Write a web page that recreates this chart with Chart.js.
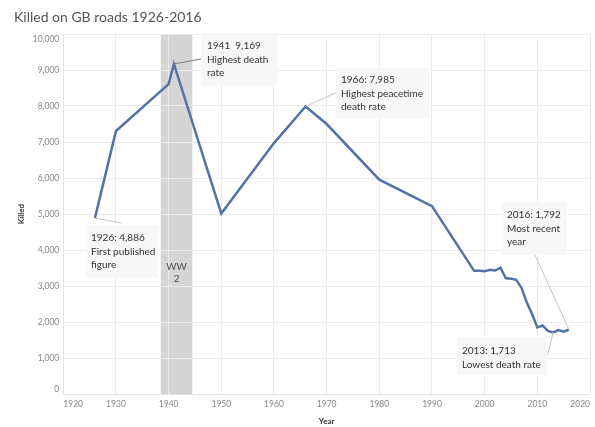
<!DOCTYPE html>
<html><head><meta charset="utf-8">
<script src="https://cdn.jsdelivr.net/npm/chart.js@4/dist/chart.umd.min.js"></script>
<style>
html,body{margin:0;padding:0;background:#fff;overflow:hidden}
#wrap{position:relative;width:595px;height:427px}
#title{position:absolute;left:14px;top:10px;font:14px/14px Lato, sans-serif;color:#555;white-space:nowrap}
canvas{position:absolute;left:0;top:0}
</style></head><body>
<div id="wrap"><canvas id="c" width="595" height="427"></canvas><div id="title">Killed on GB roads 1926-2016</div></div>
<script>
// ---- data ----
const years  = [1926,1930,1940,1941,1950,1960,1966,1970,1980,1990,1998,1999,2000,2001,2002,2003,2004,2005,2006,2007,2008,2009,2010,2011,2012,2013,2014,2015,2016];
const killed = [4886,7305,8609,9169,5012,6970,7985,7499,5953,5217,3421,3423,3409,3450,3431,3508,3221,3201,3172,2946,2538,2222,1850,1901,1754,1713,1775,1730,1792];
const xRange = [1920, 2020];
const xStep = 10;
const yRange = [0, 10000];
const yStep = 1000;
const ww2Band = [1938.5, 1944.5];
const ww2Label = ['WW', '2'];
const noteYears = [1926, 1941, 1966, 2016, 2013];
const noteTexts = [
  ['1926: 4,886', 'First published', 'figure'],
  ['1941  9,169', 'Highest death', 'rate'],
  ['1966: 7,985', 'Highest peacetime', 'death rate'],
  ['2016: 1,792', 'Most recent', 'year'],
  ['2013: 1,713', 'Lowest death rate']
];
// ---- annotation layout (pixels) ----
const noteLayout = [
  {box:[86,225,72,52],  text:[91,238],  end:[122,223], line:'#c4c4c4'},
  {box:[201,33,76,52],  text:[207,46],  end:[201,59],  line:'#7a7a7a'},
  {box:[336,68,94,50],  text:[341,80],  end:[336,92.7],line:'#c4c4c4'},
  {box:[502,203,65,52], text:[507,215], end:[535,255], line:'#c4c4c4'},
  {box:[457,337,90,38], text:[462,351], end:[547.7,355],line:'#c4c4c4'}
];

const points = years.map((y,i)=>({x:y, y:killed[i]}));
const fmt = v => Number(v).toLocaleString('en-US');

const bandPlugin = {
  id:'band',
  beforeDraw(chart){
    const {ctx, chartArea, scales:{x}} = chart;
    const x0 = x.getPixelForValue(ww2Band[0]), x1 = x.getPixelForValue(ww2Band[1]);
    ctx.save();
    ctx.fillStyle = '#d5d5d5';
    ctx.fillRect(x0, chartArea.top, x1-x0, chartArea.bottom-chartArea.top);
    ctx.restore();
  },
  beforeDatasetsDraw(chart){
    const {ctx, scales:{x}} = chart;
    const cx = (x.getPixelForValue(ww2Band[0]) + x.getPixelForValue(ww2Band[1]))/2;
    ctx.save();
    ctx.fillStyle = '#555';
    ctx.font = '10px Lato, sans-serif';
    ctx.textAlign = 'center';
    ctx.textBaseline = 'middle';
    ctx.fillText(ww2Label[0], cx, 267);
    ctx.fillText(ww2Label[1], cx, 279);
    ctx.restore();
  }
};

const notesPlugin = {
  id:'notes',
  afterDatasetsDraw(chart){
    const {ctx, scales:{x,y}} = chart;
    ctx.save();
    noteYears.forEach((yr,i)=>{
      const L = noteLayout[i];
      const idx = years.indexOf(yr);
      const px = x.getPixelForValue(yr), py = y.getPixelForValue(killed[idx]);
      ctx.strokeStyle = L.line; ctx.lineWidth = 1;
      ctx.beginPath(); ctx.moveTo(px,py); ctx.lineTo(L.end[0], L.end[1]); ctx.stroke();
      ctx.fillStyle = 'rgba(246,246,246,0.92)';
      ctx.fillRect(L.box[0], L.box[1], L.box[2], L.box[3]);
      ctx.fillStyle = '#333';
      ctx.font = '10px Lato, sans-serif';
      ctx.textAlign = 'left'; ctx.textBaseline = 'middle';
      noteTexts[i].forEach((t,j)=> ctx.fillText(t, L.text[0], L.text[1] + j*13.5));
    });
    ctx.restore();
  }
};

new Chart(document.getElementById('c'), {
  type:'line',
  data:{datasets:[{
    data: points,
    borderColor:'#5272a6',
    borderWidth:2.5,
    pointRadius:0,
    tension:0,
    fill:false
  }]},
  options:{
    responsive:false,
    devicePixelRatio:1,
    animation:false,
    layout:{padding:{top:34,left:0,right:0,bottom:0}},
    plugins:{legend:{display:false}, tooltip:{enabled:false}, title:{display:false}},
    scales:{
      x:{
        type:'linear', min:xRange[0], max:xRange[1],
        afterFit(s){ s.height = 33; },
        grid:{color:'#ebebeb', drawTicks:false},
        border:{color:'#e3e3e3'},
        ticks:{stepSize:xStep, align:'inner', padding:5, color:'#888', font:{family:'Lato', size:8.5}, maxRotation:0,
               callback:v=>String(v)},
        title:{display:true, text:'Year', color:'#333', font:{family:'Lato', size:8, weight:'bold'}, padding:{top:0,bottom:1}}
      },
      y:{
        min:yRange[0], max:yRange[1],
        afterFit(s){ s.width = 63.3; },
        grid:{color:'#ebebeb', drawTicks:false},
        border:{color:'#e3e3e3'},
        ticks:{stepSize:yStep, padding:4, color:'#888', font:{family:'Lato', size:8.5},
               callback:v=>{ const s = fmt(v); if (v===yRange[1]) return ['', s]; if (v===yRange[0]) return [s, '']; return s; }},
        title:{display:true, text:'Killed', color:'#333', font:{family:'Lato', size:8, weight:'bold'}, padding:{top:17,bottom:0}}
      }
    }
  },
  plugins:[bandPlugin, notesPlugin]
});
</script>
</body></html>
